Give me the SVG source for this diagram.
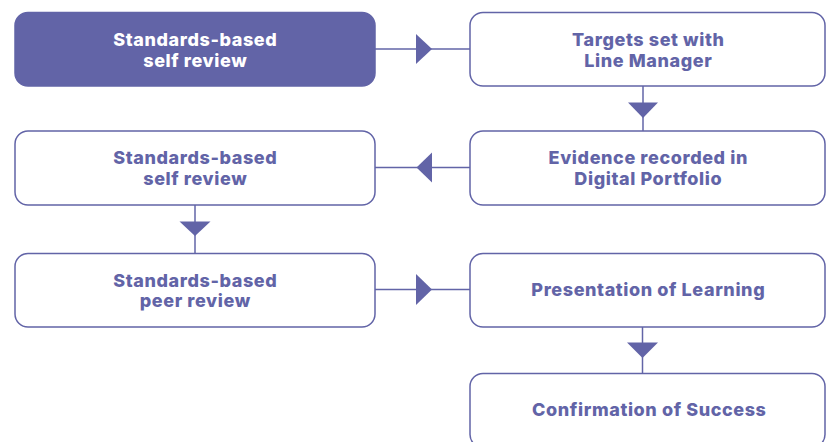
<svg xmlns="http://www.w3.org/2000/svg" width="826" height="442" viewBox="0 0 826 442">
<style>
.box{fill:#ffffff;stroke:#6264a7;stroke-width:1.5}
.filled{fill:#6264a7;stroke:#6264a7;stroke-width:1.5}
.t{font-family:Inter,"Open Sans","Liberation Sans",sans-serif;font-weight:800;font-size:18px;letter-spacing:0.6px;fill:#6264a7;text-anchor:middle}
.w{fill:#ffffff}
.ln{stroke:#6264a7;stroke-width:1.5;fill:none}
.ah{fill:#6264a7}
</style>
<rect width="826" height="442" fill="#ffffff"/>
<g id="connectors">
<line class="ln" x1="375" y1="49" x2="470" y2="49"/>
<polygon class="ah" points="416,34 432,49 416,64"/>
<line class="ln" x1="643" y1="86" x2="643" y2="131"/>
<polygon class="ah" points="628,102.5 658,102.5 643,118"/>
<line class="ln" x1="375" y1="167.5" x2="470" y2="167.5"/>
<polygon class="ah" points="432,152.5 416.5,167.5 432,182.5"/>
<line class="ln" x1="195" y1="205" x2="195" y2="253"/>
<polygon class="ah" points="179.5,221.5 210.5,221.5 195,236"/>
<line class="ln" x1="375" y1="289.5" x2="470" y2="289.5"/>
<polygon class="ah" points="416,274 432,289.5 416,305"/>
<line class="ln" x1="642.5" y1="327" x2="642.5" y2="373"/>
<polygon class="ah" points="627,342.5 658,342.5 642.5,358"/>
</g>
<g id="n1">
<rect class="filled" x="15" y="12.5" width="360" height="73.5" rx="13"/>
<text class="t w" x="195.3" y="46">Standards-based</text>
<text class="t w" x="195.3" y="67">self review</text>
</g>
<g id="n2">
<rect class="box" x="470" y="12.5" width="355" height="73.5" rx="13"/>
<text class="t" x="648.3" y="46">Targets set with</text>
<text class="t" x="648.3" y="67">Line Manager</text>
</g>
<g id="n3">
<rect class="box" x="15" y="131" width="360" height="74" rx="13"/>
<text class="t" x="195.3" y="164">Standards-based</text>
<text class="t" x="195.3" y="185">self review</text>
</g>
<g id="n4">
<rect class="box" x="470" y="131" width="355" height="74" rx="13"/>
<text class="t" x="648.3" y="164">Evidence recorded in</text>
<text class="t" x="648.3" y="185">Digital Portfolio</text>
</g>
<g id="n5">
<rect class="box" x="15" y="253.5" width="360" height="73.5" rx="13"/>
<text class="t" x="195.3" y="286.5">Standards-based</text>
<text class="t" x="195.3" y="307">peer review</text>
</g>
<g id="n6">
<rect class="box" x="470" y="253.5" width="355" height="73.5" rx="13"/>
<text class="t" x="648.3" y="296">Presentation of Learning</text>
</g>
<g id="n7">
<rect class="box" x="470" y="373.5" width="355" height="74" rx="13"/>
<text class="t" x="649.3" y="415.5">Confirmation of Success</text>
</g>
</svg>
